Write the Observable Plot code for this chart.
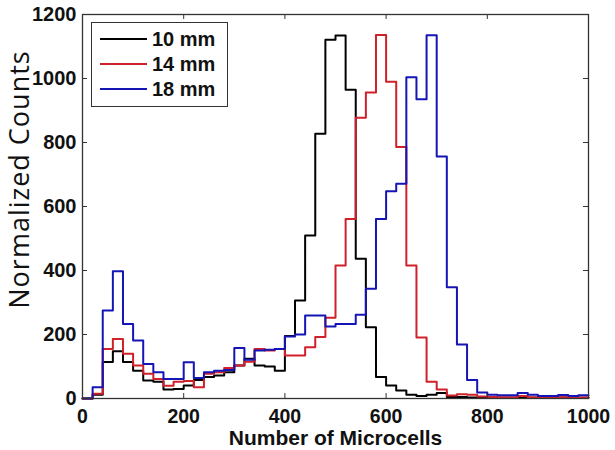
<!DOCTYPE html>
<html><head><meta charset="utf-8">
<script src="https://cdn.jsdelivr.net/npm/d3@7"></script>
<script src="https://cdn.jsdelivr.net/npm/@observablehq/plot@0.6"></script>
<style>
body{margin:0;background:#fff;}
#wrap{position:relative;width:615px;height:450px;}
#legend{position:absolute;left:91px;top:22px;width:135px;height:83px;border:1.3px solid #333;background:#fff;font:bold 20px "Liberation Sans",Arial,sans-serif;color:#111;}
.row{position:absolute;left:8px;height:22px;display:flex;align-items:center;white-space:nowrap;}
.sw{width:47px;height:2px;margin-right:5px;}
</style></head><body><div id="wrap"></div>
<script>
const binStart = [0,20,40,60,80,100,120,140,160,180,200,220,240,260,280,300,320,340,360,380,400,420,440,460,480,500,520,540,560,580,600,620,640,660,680,700,720,740,760,780,800,820,840,860,880,900,920,940,960,980];
const counts10mm = [0,12,114,148,114,87,56,52,28,30,41,58,67,72,82,103,124,103,100,87,195,306,509,827,1121,1134,965,437,223,67,41,25,12,8,12,17,5,5,3,3,2,2,2,3,2,2,2,3,2,2];
const counts14mm = [0,15,155,186,140,103,77,61,40,52,55,35,77,82,95,103,115,155,150,155,134,134,160,192,252,416,561,877,956,1136,990,786,416,191,52,28,9,13,12,6,5,4,4,8,4,3,4,4,3,3];
const counts18mm = [0,35,275,398,233,181,108,82,61,61,113,64,82,87,89,158,121,150,152,155,194,200,259,259,225,233,233,262,343,561,648,671,1004,935,1135,756,348,169,58,19,12,10,10,17,12,8,8,11,8,10];
const seriesNames = ["10 mm","14 mm","18 mm"];
const seriesColors = ["#000000","#d0202a","#1515b5"];
const xTicks = [0,200,400,600,800,1000];
const yTicks = [0,200,400,600,800,1000,1200];
const xLabel = "Number of Microcells";
const yLabel = "Normalized Counts";

const allCounts = [counts10mm, counts14mm, counts18mm];
const xMax = xTicks[xTicks.length-1];
const rows = [];
seriesNames.forEach((name, s) => {
  const v = allCounts[s];
  binStart.forEach((x, i) => rows.push({series: name, x, y: v[i]}));
  rows.push({series: name, x: xMax, y: v[v.length-1]});
});

const W = 615, H = 450, mL = 82, mR = 27, mT = 14, mB = 52;
const innerW = W - mL - mR, innerH = H - mT - mB, tk = 5;
const axisStroke = "#333";
const fmt = d => String(d);

const chart = Plot.plot({
  width: W, height: H,
  marginLeft: mL, marginRight: mR, marginTop: mT, marginBottom: mB,
  style: {fontFamily: '"Liberation Sans", Arial, sans-serif', background: "#fff", color: "#111"},
  x: {domain: [xTicks[0], xMax]},
  y: {domain: [yTicks[0], yTicks[yTicks.length-1]]},
  color: {type: "ordinal", domain: seriesNames, range: seriesColors},
  marks: [
    Plot.line(rows, {x: "x", y: "y", z: "series", stroke: "series", curve: "step-after", strokeWidth: 2}),
    Plot.tickX(xTicks, {x: d => d, insetTop: innerH - tk, stroke: axisStroke}),
    Plot.tickX(xTicks, {x: d => d, insetBottom: innerH - tk, stroke: axisStroke}),
    Plot.tickY(yTicks, {y: d => d, insetRight: innerW - tk, stroke: axisStroke}),
    Plot.tickY(yTicks, {y: d => d, insetLeft: innerW - tk, stroke: axisStroke}),
    Plot.frame({stroke: axisStroke, strokeWidth: 1.3}),
    Plot.axisX(xTicks, {tickSize: 0, tickPadding: 11, fontSize: 19.5, fontWeight: "bold", label: null, tickFormat: fmt}),
    Plot.axisY(yTicks, {tickSize: 0, tickPadding: 6, fontSize: 20, fontWeight: "bold", label: null, tickFormat: fmt}),
    Plot.text([xLabel], {frameAnchor: "bottom", dy: 40, lineAnchor: "middle", textAnchor: "middle", text: d => d, fontSize: 21, fontWeight: "bold"}),
    Plot.text([yLabel], {frameAnchor: "left", dx: -62, dy: -27, rotate: -90, textAnchor: "middle", lineAnchor: "middle", text: d => d, fontSize: 27, fontFamily: '"Open Sans", sans-serif', title: null})
  ]
});
// slight letter spacing on the y-axis label to match the reference's wide setting
d3.select(chart).selectAll("text").filter(function() { return this.textContent === yLabel; }).style("letter-spacing", "1px");
const wrap = document.getElementById("wrap");
wrap.appendChild(chart);

const legend = document.createElement("div");
legend.id = "legend";
seriesNames.forEach((name, i) => {
  const r = document.createElement("div");
  r.className = "row";
  r.style.top = (5 + i * 25) + "px";
  const sw = document.createElement("span");
  sw.className = "sw";
  sw.style.background = seriesColors[i];
  const t = document.createElement("span");
  t.textContent = name;
  r.appendChild(sw); r.appendChild(t);
  legend.appendChild(r);
});
wrap.appendChild(legend);
</script>
</body></html>
